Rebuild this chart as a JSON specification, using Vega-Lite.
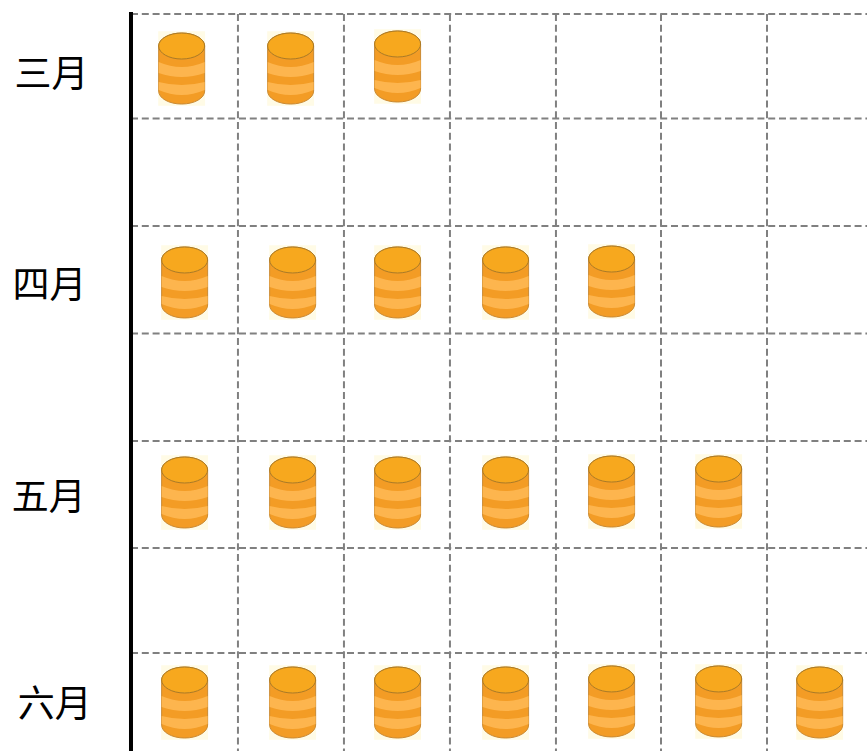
{"$schema":"https://vega.github.io/schema/vega-lite/v6.json","width":867,"height":751,"padding":0,"autosize":{"type":"none"},"background":"white","config":{"view":{"stroke":null}},
"datasets":{
"vgrid":[{"c":1.009},{"c":2.009},{"c":3.009},{"c":4.009},{"c":5.0},{"c":6.0}],
"hgrid":[{"r":0},{"r":0.981},{"r":1.991},{"r":3.0},{"r":4.009},{"r":5.014},{"r":6.0}],
"labels":[{"m":"三月","c":-0.75,"r":0.586},{"m":"四月","c":-0.77,"r":2.568},{"m":"五月","c":-0.775,"r":4.558},{"m":"六月","c":-0.72,"r":6.502}],
"coins":[
{"m":"三月","c":0.478,"r":0.512},{"m":"三月","c":1.506,"r":0.512},{"m":"三月","c":2.515,"r":0.493},
{"m":"四月","c":0.506,"r":2.521},{"m":"四月","c":1.525,"r":2.521},{"m":"四月","c":2.515,"r":2.521},{"m":"四月","c":3.534,"r":2.521},{"m":"四月","c":4.534,"r":2.512},
{"m":"五月","c":0.506,"r":4.493},{"m":"五月","c":1.525,"r":4.493},{"m":"五月","c":2.515,"r":4.493},{"m":"五月","c":3.534,"r":4.493},{"m":"五月","c":4.534,"r":4.484},{"m":"五月","c":5.544,"r":4.484},
{"m":"六月","c":0.506,"r":6.465},{"m":"六月","c":1.525,"r":6.465},{"m":"六月","c":2.515,"r":6.465},{"m":"六月","c":3.534,"r":6.465},{"m":"六月","c":4.534,"r":6.455},{"m":"六月","c":5.544,"r":6.455},{"m":"六月","c":6.497,"r":6.465}]
},
"layer":[
{"data":{"name":"vgrid"},"mark":{"type":"rule","stroke":"#808080","strokeWidth":2,"strokeDash":[7,3.8]},
"encoding":{"x":{"field":"c","type":"quantitative","axis":null,"scale":{"domain":[-1.2358,6.9434],"nice":false,"zero":false}},"y":{"datum":0,"type":"quantitative","axis":null,"scale":{"domain":[6.9202,-0.1315],"nice":false,"zero":false}},"y2":{"datum":7.0}}},
{"data":{"name":"hgrid"},"mark":{"type":"rule","stroke":"#808080","strokeWidth":2,"strokeDash":[7,3.8]},
"encoding":{"y":{"field":"r","type":"quantitative","axis":null,"scale":{"domain":[6.9202,-0.1315],"nice":false,"zero":false}},"x":{"datum":0,"type":"quantitative","axis":null,"scale":{"domain":[-1.2358,6.9434],"nice":false,"zero":false}},"x2":{"datum":7.0}}},
{"mark":{"type":"rule","stroke":"#000000","strokeWidth":4},"data":{"values":[{"c":0,"r1":-0.019,"r2":7.0}]},
"encoding":{"x":{"field":"c","type":"quantitative","axis":null,"scale":{"domain":[-1.2358,6.9434],"nice":false,"zero":false}},"y":{"field":"r1","type":"quantitative","axis":null,"scale":{"domain":[6.9202,-0.1315],"nice":false,"zero":false}},"y2":{"field":"r2"}}},
{"data":{"name":"labels"},"mark":{"type":"text","font":"Noto Sans CJK TC","fontSize":37,"fill":"#000000","align":"center","baseline":"middle"},
"encoding":{"text":{"field":"m"},"x":{"field":"c","type":"quantitative","axis":null,"scale":{"domain":[-1.2358,6.9434],"nice":false,"zero":false}},"y":{"field":"r","type":"quantitative","axis":null,"scale":{"domain":[6.9202,-0.1315],"nice":false,"zero":false}}}},
{"data":{"name":"coins"},
"encoding":{"x":{"field":"c","type":"quantitative","axis":null,"scale":{"domain":[-1.2358,6.9434],"nice":false,"zero":false}},"y":{"field":"r","type":"quantitative","axis":null,"scale":{"domain":[6.9202,-0.1315],"nice":false,"zero":false}}},
"layer":[
{"mark":{"type":"point","filled":true,"opacity":1,"size":5041,"fill":"#FFFBE6","stroke":null,"shape":"M-0.66,-1.05 L0.66,-1.05 L0.66,1.05 L-0.66,1.05 Z"}},
{"mark":{"type":"point","filled":true,"opacity":1,"size":5041,"fill":"#F39C25","stroke":"#C98A35","strokeWidth":1,"shape":"M-0.648,-0.634 L-0.648,0.634 A0.648,0.366 0 0 0 0.648,0.634 L0.648,-0.634 A0.648,0.366 0 0 0 -0.648,-0.634 Z"}},
{"mark":{"type":"point","filled":true,"opacity":1,"size":5041,"fill":"#FDB54E","stroke":null,"shape":"M-0.648,-0.183 Q0,0.097 0.648,-0.183 L0.648,0.127 Q0,0.353 -0.648,0.127 Z"}},
{"mark":{"type":"point","filled":true,"opacity":1,"size":5041,"fill":"#FDB54E","stroke":null,"shape":"M-0.648,0.38 Q0,0.55 0.648,0.38 L0.648,0.606 Q0,0.886 -0.648,0.606 Z"}},
{"mark":{"type":"point","filled":true,"opacity":1,"size":5041,"fill":"#F7A81E","stroke":"#A97A28","strokeWidth":1,"shape":"M-0.648,-0.634 A0.648,0.366 0 1 0 0.648,-0.634 A0.648,0.366 0 1 0 -0.648,-0.634 Z"}}
]}
]}
